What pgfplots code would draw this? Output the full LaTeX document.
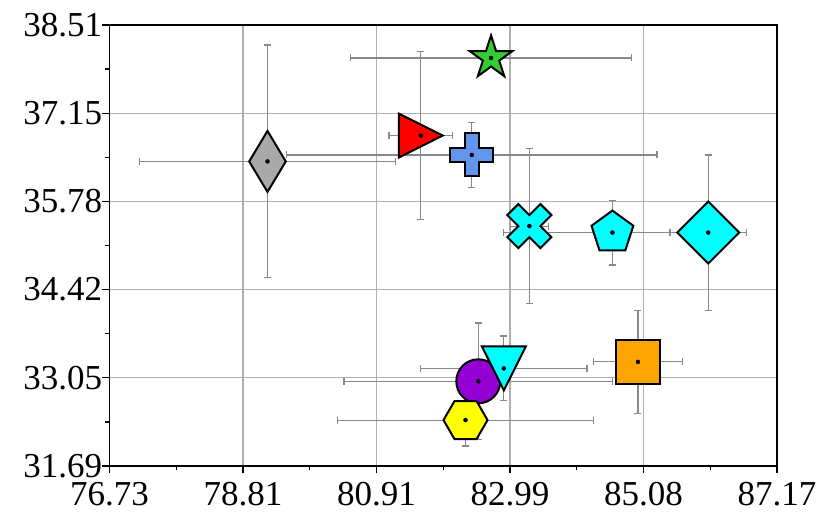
\documentclass[border=0pt]{standalone}
\usepackage{fontspec}
\setmainfont{Liberation Serif}
\usepackage{pgfplots}
\pgfplotsset{compat=1.18}
\definecolor{errgray}{HTML}{888888}
\definecolor{gridgray}{HTML}{B0B0B0}
\definecolor{cgrey}{HTML}{A9A9A9}
\definecolor{cgreen}{HTML}{32CD32}
\definecolor{cblue}{HTML}{6495ED}
\definecolor{cpurple}{HTML}{9400D3}
\definecolor{corange}{HTML}{FFA500}
\definecolor{ccyan}{HTML}{00FFFF}
\definecolor{cyellow}{HTML}{FFFF00}
\definecolor{cred}{HTML}{FF0000}

\pgfdeclareplotmark{mthindiamond}{%
 \pgfpathmoveto{\pgfqpoint{0bp}{30.5bp}}%
 \pgfpathlineto{\pgfqpoint{18.3bp}{0bp}}%
 \pgfpathlineto{\pgfqpoint{0bp}{-30.5bp}}%
 \pgfpathlineto{\pgfqpoint{-18.3bp}{0bp}}%
 \pgfpathclose\pgfusepathqfillstroke}
\pgfdeclareplotmark{mdiamond}{%
 \pgfpathmoveto{\pgfqpoint{0bp}{31bp}}%
 \pgfpathlineto{\pgfqpoint{31bp}{0bp}}%
 \pgfpathlineto{\pgfqpoint{0bp}{-31bp}}%
 \pgfpathlineto{\pgfqpoint{-31bp}{0bp}}%
 \pgfpathclose\pgfusepathqfillstroke}
\pgfdeclareplotmark{mtriright}{%
 \pgfpathmoveto{\pgfqpoint{22bp}{0bp}}%
 \pgfpathlineto{\pgfqpoint{-22bp}{22bp}}%
 \pgfpathlineto{\pgfqpoint{-22bp}{-22bp}}%
 \pgfpathclose\pgfusepathqfillstroke}
\pgfdeclareplotmark{mtridown}{%
 \pgfpathmoveto{\pgfqpoint{0bp}{-22bp}}%
 \pgfpathlineto{\pgfqpoint{22bp}{22bp}}%
 \pgfpathlineto{\pgfqpoint{-22bp}{22bp}}%
 \pgfpathclose\pgfusepathqfillstroke}
\pgfdeclareplotmark{mstar}{%
 \pgfpathmoveto{\pgfpointpolar{90}{22.5bp}}%
 \pgfpathlineto{\pgfpointpolar{126}{8.6bp}}%
 \pgfpathlineto{\pgfpointpolar{162}{22.5bp}}%
 \pgfpathlineto{\pgfpointpolar{198}{8.6bp}}%
 \pgfpathlineto{\pgfpointpolar{234}{22.5bp}}%
 \pgfpathlineto{\pgfpointpolar{270}{8.6bp}}%
 \pgfpathlineto{\pgfpointpolar{306}{22.5bp}}%
 \pgfpathlineto{\pgfpointpolar{342}{8.6bp}}%
 \pgfpathlineto{\pgfpointpolar{18}{22.5bp}}%
 \pgfpathlineto{\pgfpointpolar{54}{8.6bp}}%
 \pgfpathclose\pgfusepathqfillstroke}
\pgfdeclareplotmark{mpentagon}{%
 \pgfpathmoveto{\pgfpointpolar{90}{22bp}}%
 \pgfpathlineto{\pgfpointpolar{162}{22bp}}%
 \pgfpathlineto{\pgfpointpolar{234}{22bp}}%
 \pgfpathlineto{\pgfpointpolar{306}{22bp}}%
 \pgfpathlineto{\pgfpointpolar{18}{22bp}}%
 \pgfpathclose\pgfusepathqfillstroke}
\pgfdeclareplotmark{mhexagon}{%
 \pgfpathmoveto{\pgfpointpolar{0}{22bp}}%
 \pgfpathlineto{\pgfpointpolar{60}{22bp}}%
 \pgfpathlineto{\pgfpointpolar{120}{22bp}}%
 \pgfpathlineto{\pgfpointpolar{180}{22bp}}%
 \pgfpathlineto{\pgfpointpolar{240}{22bp}}%
 \pgfpathlineto{\pgfpointpolar{300}{22bp}}%
 \pgfpathclose\pgfusepathqfillstroke}
\pgfdeclareplotmark{msquare}{%
 \pgfpathrectangle{\pgfqpoint{-22.3bp}{-22.3bp}}{\pgfqpoint{44.6bp}{44.6bp}}%
 \pgfusepathqfillstroke}
\pgfdeclareplotmark{mcircle}{%
 \pgfpathcircle{\pgfpointorigin}{22bp}%
 \pgfusepathqfillstroke}
\pgfdeclareplotmark{mplus}{%
 \pgfpathmoveto{\pgfqpoint{-7.2bp}{-21.5bp}}%
 \pgfpathlineto{\pgfqpoint{7.2bp}{-21.5bp}}%
 \pgfpathlineto{\pgfqpoint{7.2bp}{-7.2bp}}%
 \pgfpathlineto{\pgfqpoint{21.5bp}{-7.2bp}}%
 \pgfpathlineto{\pgfqpoint{21.5bp}{7.2bp}}%
 \pgfpathlineto{\pgfqpoint{7.2bp}{7.2bp}}%
 \pgfpathlineto{\pgfqpoint{7.2bp}{21.5bp}}%
 \pgfpathlineto{\pgfqpoint{-7.2bp}{21.5bp}}%
 \pgfpathlineto{\pgfqpoint{-7.2bp}{7.2bp}}%
 \pgfpathlineto{\pgfqpoint{-21.5bp}{7.2bp}}%
 \pgfpathlineto{\pgfqpoint{-21.5bp}{-7.2bp}}%
 \pgfpathlineto{\pgfqpoint{-7.2bp}{-7.2bp}}%
 \pgfpathclose\pgfusepathqfillstroke}
\pgfdeclareplotmark{mx}{%
 \pgftransformrotate{45}%
 \pgfpathmoveto{\pgfqpoint{-7.8bp}{-23.4bp}}%
 \pgfpathlineto{\pgfqpoint{7.8bp}{-23.4bp}}%
 \pgfpathlineto{\pgfqpoint{7.8bp}{-7.8bp}}%
 \pgfpathlineto{\pgfqpoint{23.4bp}{-7.8bp}}%
 \pgfpathlineto{\pgfqpoint{23.4bp}{7.8bp}}%
 \pgfpathlineto{\pgfqpoint{7.8bp}{7.8bp}}%
 \pgfpathlineto{\pgfqpoint{7.8bp}{23.4bp}}%
 \pgfpathlineto{\pgfqpoint{-7.8bp}{23.4bp}}%
 \pgfpathlineto{\pgfqpoint{-7.8bp}{7.8bp}}%
 \pgfpathlineto{\pgfqpoint{-23.4bp}{7.8bp}}%
 \pgfpathlineto{\pgfqpoint{-23.4bp}{-7.8bp}}%
 \pgfpathlineto{\pgfqpoint{-7.8bp}{-7.8bp}}%
 \pgfpathclose\pgfusepathqfillstroke}

\pgfplotsset{mk/.style={only marks, mark=#1}}

\begin{document}
\begin{tikzpicture}
\useasboundingbox (0,0) rectangle (830bp,529bp);
\begin{axis}[
 at={(109.4bp,63bp)}, anchor=south west,
 width=667.5bp, height=441bp, scale only axis,
 xmin=76.725, xmax=87.175, ymin=31.69, ymax=38.51,
 xtick={76.725,78.815,80.905,82.995,85.085,87.175},
 xticklabels={76.73,78.81,80.91,82.99,85.08,87.17},
 ytick={31.69,33.054,34.418,35.782,37.146,38.51},
 yticklabels={31.69,33.05,34.42,35.78,37.15,38.51},
 minor x tick num=1, minor y tick num=1,
 tick align=outside, tick pos=left,
 major tick length=7bp, minor tick length=4bp,
 tick style={black, line width=1.3bp},
 axis line style={black, line width=1.3bp},
 grid=major, major grid style={draw=gridgray, line width=1.2bp},
 /pgf/number format/assume math mode=true,
 tick label style={font=\fontsize{35bp}{40bp}\selectfont, inner sep=0pt},
 xticklabel style={yshift=-9bp},
 mo/.style={mark options={fill=#1, draw=black, line width=2bp, solid}},
]
% error bars first
\addplot[draw=none, mark=none, forget plot,
  error bars/.cd, x dir=both, x explicit, y dir=both, y explicit,
  error bar style={draw=errgray, line width=1.1bp, solid},
  error mark options={draw=errgray, line width=1.3bp, mark size=3.5bp, solid, rotate=90}]
 coordinates {
 (79.2,36.4) +- (2.0,1.8)
 (81.6,36.8) +- (0.5,1.3)
 (82.7,38.0) +- (2.2,0.15)
 (82.4,36.5) +- (2.9,0.5)
 (83.3,35.4) +- (0.3,1.2)
 (84.6,35.3) +- (1.7,0.5)
 (86.1,35.3) +- (0.6,1.2)
 (82.5,33.0) +- (2.1,0.9)
 (82.9,33.2) +- (1.3,0.5)
 (82.3,32.4) +- (2.0,0.4)
 (85.0,33.3) +- (0.7,0.8)
 };
% markers
\addplot[mk=mthindiamond, mo=cgrey] coordinates {(79.2,36.4)};
\addplot[mk=mtriright, mo=cred] coordinates {(81.6,36.8)};
\addplot[mk=mstar, mo=cgreen] coordinates {(82.7,38.0)};
\addplot[mk=mplus, mo=cblue] coordinates {(82.4,36.5)};
\addplot[mk=mx, mo=ccyan] coordinates {(83.3,35.4)};
\addplot[mk=mpentagon, mo=ccyan] coordinates {(84.6,35.3)};
\addplot[mk=mdiamond, mo=ccyan] coordinates {(86.1,35.3)};
\addplot[mk=mcircle, mo=cpurple] coordinates {(82.5,33.0)};
\addplot[mk=mtridown, mo=ccyan] coordinates {(82.9,33.2)};
\addplot[mk=mhexagon, mo=cyellow] coordinates {(82.3,32.4)};
\addplot[mk=msquare, mo=corange] coordinates {(85.0,33.3)};
% centre dots
\addplot[only marks, mark=*, mark size=2bp, mark options={fill=black, draw=none}] coordinates {
 (79.2,36.4) (81.6,36.8) (82.7,38.0) (82.4,36.5) (83.3,35.4) (84.6,35.3)
 (86.1,35.3) (82.5,33.0) (82.9,33.2) (82.3,32.4) (85.0,33.3)};
\end{axis}
\end{tikzpicture}
\end{document}
